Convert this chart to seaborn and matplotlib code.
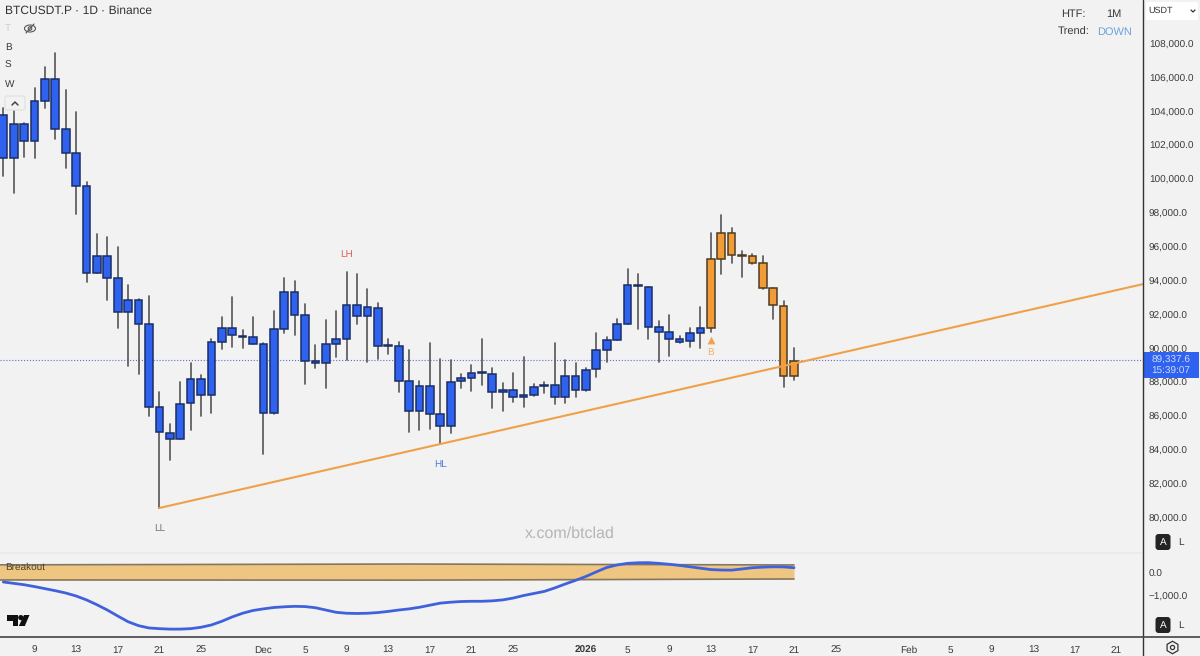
"""BTCUSDT.P daily candles with trend line and breakout pane."""

import matplotlib

matplotlib.use("Agg")

import matplotlib.dates as mdates
import matplotlib.pyplot as plt
import pandas as pd
import seaborn as sns
from matplotlib.lines import Line2D
from matplotlib.patches import Circle, Ellipse, FancyBboxPatch, Polygon, Rectangle

# candles, one per day from 2025-11-06 to 2026-01-21
first_day = "2025-11-06"
highs = [
    104220, 104040, 103330, 105400, 106640, 107470, 105280, 103980, 99850, 96780,
    96600, 96010, 93760, 92940, 93110, 87440, 85550, 88030, 89160, 88450,
    90570, 91870, 93050, 91110, 91870, 90340, 92230, 94180, 94000, 92640,
    90220, 91700, 92230, 94530, 94410, 93530, 92700, 90570, 90400, 89920,
    88090, 90340, 89390, 89330, 88510, 89040, 90570, 88860, 87970, 88570,
    89510, 87920, 88030, 90340, 89330, 89160, 88860, 90930, 90690, 91760,
    94710, 94410, 93650, 91640, 91990, 90750, 91220, 92460, 96840, 97900,
    97130, 95770, 95590, 95480, 93590, 92820, 90040,
]
lows = [
    100200, 99200, 101320, 101270, 104220, 102390, 100670, 97960, 93940, 94470,
    92880, 91220, 88980, 88510, 86030, 80590, 83430, 84670, 85200, 86030,
    86200, 89980, 90100, 90040, 90280, 83780, 86140, 90930, 90810, 87920,
    88860, 87680, 89510, 89330, 91460, 89220, 89390, 89690, 87440, 85080,
    85200, 85260, 84370, 85020, 87680, 87500, 87860, 86500, 86320, 86850,
    86560, 87210, 87380, 86730, 86790, 87150, 87500, 88330, 89220, 90510,
    91460, 91160, 90570, 89220, 89570, 90340, 90100, 90040, 90990, 94410,
    95060, 94240, 95000, 93530, 91760, 87740, 88150,
]
body_tops = [
    103810, 103270, 103270, 104630, 105930, 105930, 102980, 101560, 99610, 95480,
    95480, 94180, 92880, 92880, 91460, 86560, 85020, 86730, 88210, 88210,
    90400, 91220, 91220, 90750, 90690, 90280, 91160, 93350, 93350, 91990,
    89270, 90280, 90570, 92580, 92580, 92460, 92400, 90220, 90160, 88090,
    87800, 87800, 86140, 88030, 88270, 88570, 88620, 88510, 87560, 87560,
    87270, 87740, 87860, 87860, 88390, 88390, 88740, 89920, 90510, 91460,
    93760, 93760, 93650, 91280, 90990, 90570, 90930, 91220, 95300, 96840,
    96840, 95540, 95480, 95060, 93590, 92520, 89270,
]
body_bottoms = [
    101270, 101270, 102270, 102270, 104630, 102980, 101560, 99610, 94470, 94470,
    94180, 92170, 92170, 91460, 86560, 85080, 84670, 84670, 86790, 87270,
    87270, 90400, 90810, 90700, 90280, 86200, 86200, 91160, 91990, 89270,
    89160, 89160, 90280, 90570, 91930, 91930, 90160, 90160, 88090, 86320,
    86320, 86140, 85430, 85430, 88090, 88270, 88570, 87440, 87440, 87150,
    87150, 87270, 87800, 87150, 87150, 87560, 87560, 88800, 89920, 90510,
    91460, 93700, 91280, 90990, 90570, 90400, 90460, 90930, 91220, 95300,
    95540, 95480, 95060, 93590, 92580, 88390, 88390,
]
breakout_day = "2026-01-13"

trend_dates = ["2025-11-21", "2026-02-24"]
trend_prices = [80590, 93880]
last_price = 89337.6

# breakout pane, indicator read for each candle
indicator_values = [
    -390, -450, -510, -590, -680, -770, -870, -1000, -1170, -1380,
    -1610, -1870, -2120, -2290, -2390, -2420, -2440, -2440, -2420, -2360,
    -2260, -2100, -1910, -1750, -1630, -1560, -1500, -1470, -1450, -1460,
    -1510, -1610, -1710, -1750, -1760, -1750, -1720, -1670, -1610, -1560,
    -1490, -1400, -1310, -1270, -1240, -1230, -1230, -1210, -1170, -1090,
    -980, -890, -800, -650, -480, -320, -150, 50, 240, 350,
    420, 445, 450, 420, 380, 330, 270, 210, 150, 130,
    125, 175, 230, 255, 270, 265, 230,
]
band_dates = ["2025-11-01", "2025-12-15", "2026-01-21"]
band_upper = [350, 390, 350]
band_lower = [-300, -310, -260]

price_ticks = list(range(80000, 110000, 2000))
indicator_ticks = [0, -1000]
indicator_tick_labels = ["0.0", "\u22121,000.0"]
time_tick_dates = [
    "2025-11-09", "2025-11-13", "2025-11-17", "2025-11-21", "2025-11-25",
    "2025-12-01", "2025-12-05", "2025-12-09", "2025-12-13", "2025-12-17",
    "2025-12-21", "2025-12-25", "2026-01-01", "2026-01-05", "2026-01-09",
    "2026-01-13", "2026-01-17", "2026-01-21", "2026-01-25", "2026-02-01",
    "2026-02-05", "2026-02-09", "2026-02-13", "2026-02-17", "2026-02-21",
]
time_tick_labels = [
    "9", "13", "17", "21", "25", "Dec", "5", "9", "13", "17", "21", "25", "2026",
    "5", "9", "13", "17", "21", "25", "Feb", "5", "9", "13", "17", "21",
]

BG = "#f2f2f2"
BLUE = "#2f62ee"
BLUE_EDGE = "#1b2f66"
ORANGE = "#f29c38"
ORANGE_EDGE = "#4d3c22"
WICK = "#5c5c5c"
TREND = "#f0a04b"
AXIS = "#333333"
TEXT = "#3a3a3a"

W, H = 1200, 656
PANE_RIGHT, PANE_SPLIT, PANE_BOTTOM = 1143, 553, 637

sns.set_theme(style="white")
plt.rcParams["font.family"] = ["Liberation Sans", "DejaVu Sans"]
plt.rcParams["text.hinting"] = "none"
plt.rcParams["text.hinting_factor"] = 1
plt.rcParams["figure.facecolor"] = BG
plt.rcParams["axes.facecolor"] = BG

candles = pd.DataFrame({
    "date": pd.date_range(first_day, periods=len(highs), freq="D"),
    "high": highs,
    "low": lows,
    "top": body_tops,
    "bottom": body_bottoms,
    "indicator": indicator_values,
})
wicks = candles.melt(id_vars="date", value_vars=["high", "low"], value_name="price")

fig = plt.figure(figsize=(W / 100, H / 100), dpi=100)
ax = fig.add_axes([0, 1 - PANE_SPLIT / H, PANE_RIGHT / W, PANE_SPLIT / H])
ax_ind = fig.add_axes(
    [0, 1 - PANE_BOTTOM / H, PANE_RIGHT / W, (PANE_BOTTOM - PANE_SPLIT) / H], sharex=ax
)

# price pane
ax.axhline(last_price, color="#5b6fd6", linewidth=0.8, linestyle=":", zorder=1)
sns.lineplot(
    data=wicks, x="date", y="price", units="date", estimator=None,
    color=WICK, linewidth=1.25, ax=ax, legend=False, zorder=2,
)
is_breakout = candles["date"] >= pd.Timestamp(breakout_day)
ax.bar(
    candles["date"], candles["top"] - candles["bottom"], bottom=candles["bottom"],
    width=0.74,
    color=[ORANGE if b else BLUE for b in is_breakout],
    edgecolor=[ORANGE_EDGE if b else BLUE_EDGE for b in is_breakout],
    linewidth=1.1, zorder=3,
)
sns.lineplot(
    x=pd.to_datetime(trend_dates), y=trend_prices,
    color=TREND, linewidth=1.5, ax=ax, zorder=4,
)

ax.text(pd.Timestamp("2025-12-09"), 95590, "LH", color="#d9645a", fontsize=7,
        ha="center", va="center")
ax.text(pd.Timestamp("2025-12-18"), 83190, "HL", color="#4f7fd9", fontsize=7,
        ha="center", va="center")
ax.text(pd.Timestamp("2025-11-21"), 79410, "LL", color="#777777", fontsize=7,
        ha="center", va="center")
ax.text(pd.Timestamp("2026-01-13"), 89800, "B", color="#f2b06a", fontsize=7,
        ha="center", va="center")
ax.scatter([pd.Timestamp("2026-01-13")], [90520], marker="^", s=32, color="#f2a44c",
           linewidths=0, zorder=4)
ax.text(570 / PANE_RIGHT, 1 - 534 / PANE_SPLIT, "x.com/btclad", color="#b5b5b5",
        fontsize=11.5, ha="center", va="center", transform=ax.transAxes)

ax.set_ylim(77930, 110600)
ax.yaxis.tick_right()
ax.set_yticks(price_ticks)
ax.set_yticklabels([f"{t:,.1f}" for t in price_ticks])
ax.tick_params(axis="y", length=0, pad=4.3, labelsize=7.2, labelcolor=TEXT)
ax.tick_params(axis="x", length=0, labelbottom=False)
ax.set(xlabel="", ylabel="")

# breakout pane
band_x = pd.to_datetime(band_dates)
ax_ind.fill_between(band_x, band_lower, band_upper, color="#efc681", linewidth=0, zorder=1)
sns.lineplot(x=band_x, y=band_upper, color="#85775f", linewidth=1.2, ax=ax_ind, zorder=2)
sns.lineplot(x=band_x, y=band_lower, color="#85775f", linewidth=1.2, ax=ax_ind, zorder=2)
sns.lineplot(data=candles, x="date", y="indicator", color="#3f62dc", linewidth=2,
             ax=ax_ind, zorder=3)

ax_ind.set_ylim(-2783, 870)
ax_ind.yaxis.tick_right()
ax_ind.set_yticks(indicator_ticks)
ax_ind.set_yticklabels(indicator_tick_labels)
ax_ind.tick_params(axis="y", length=0, pad=4.3, labelsize=7.2, labelcolor=TEXT)
ax_ind.set_xticks(mdates.date2num(pd.to_datetime(time_tick_dates)))
ax_ind.set_xticklabels(time_tick_labels)
ax_ind.tick_params(axis="x", length=0, pad=6, labelsize=7.2, labelcolor=TEXT)
ax_ind.set(xlabel="", ylabel="")
for label in ax_ind.get_xticklabels():
    if label.get_text() == "2026":
        label.set_fontweight("bold")

ax.set_xlim(
    pd.Timestamp(first_day) - pd.Timedelta(hours=7.6),
    pd.Timestamp(first_day) + pd.Timedelta(hours=2629),
)

for a in (ax, ax_ind):
    for spine in a.spines.values():
        spine.set_visible(False)
ax_ind.spines["top"].set_visible(True)
ax_ind.spines["top"].set_color("#e9e9e9")
ax_ind.spines["top"].set_linewidth(1.2)

# chart furniture drawn in pixel space on top of both panes
over = fig.add_axes([0, 0, 1, 1], facecolor="none")
over.set_xlim(0, W)
over.set_ylim(H, 0)
over.axis("off")

over.add_line(Line2D([PANE_RIGHT, PANE_RIGHT], [0, H], color=AXIS, linewidth=1))
over.add_line(Line2D([0, W], [PANE_BOTTOM, PANE_BOTTOM], color="#444444", linewidth=1.2))

over.text(5, 10.5, "BTCUSDT.P \u00b7 1D \u00b7 Binance", fontsize=8.8, color="#333333",
          va="center")
over.text(5, 28.5, "T", fontsize=7.5, color="#cfcfcf", va="center")
over.text(5, 47, "B", fontsize=7.5, color=TEXT, va="center")
over.text(5, 65.5, "S", fontsize=7.5, color=TEXT, va="center")
over.text(5, 84, "W", fontsize=7.5, color=TEXT, va="center")

# hidden-eye icon
over.add_patch(Ellipse((30, 28.5), 11, 7, fill=False, edgecolor="#555555", linewidth=0.8))
over.add_patch(Circle((30, 28.5), 1.8, fill=False, edgecolor="#555555", linewidth=0.8))
over.add_line(Line2D([26, 34], [33, 24], color="#555555", linewidth=0.8))

# collapse button
over.add_patch(FancyBboxPatch((5, 96), 20, 14, boxstyle="round,pad=0,rounding_size=2",
                              facecolor=BG, edgecolor="#e0e0e0", linewidth=0.8))
over.add_line(Line2D([12, 15, 18], [105, 102, 105], color="#444444", linewidth=1.1))

# higher-timeframe table
over.text(1061, 14.5, "HTF:", fontsize=8, color=TEXT, va="center")
over.text(1106, 14.5, "1M", fontsize=8, color=TEXT, va="center")
over.text(1058, 32.5, "Trend:", fontsize=8, color=TEXT, va="center")
over.text(1097, 32.5, "DOWN", fontsize=8, color="#6ca2dd", va="center")

# currency selector
over.add_patch(FancyBboxPatch((1146, 2), 52, 18, boxstyle="round,pad=0,rounding_size=2",
                              facecolor="white", edgecolor="none"))
over.text(1148, 11, "USDT", fontsize=6.8, color="#333333", va="center")
over.add_line(Line2D([1191, 1193, 1195], [10, 12, 10], color="#333333", linewidth=0.9))

# last-price tag
over.add_patch(Rectangle((PANE_RIGHT + 0.5, 352), W - PANE_RIGHT - 1.5, 26,
                         facecolor=BLUE, edgecolor="none"))
over.text(1171, 360, f"{last_price:,.1f}", fontsize=7.2, color="#cfdcff", ha="center",
          va="center")
over.text(1171, 371, "15:39:07", fontsize=7.2, color="#cfdcff", ha="center", va="center")

over.text(5, 567, "Breakout", fontsize=7.5, color="#4a4233", va="center")

# TradingView mark
over.add_patch(Polygon([(6.7, 615), (18, 615), (18, 626), (12.5, 626), (12.5, 620.5),
                        (6.7, 620.5)], facecolor="#111111", edgecolor="none"))
over.add_patch(Circle((20.8, 617.6), 2.6, facecolor="#111111", edgecolor="none"))
over.add_patch(Polygon([(24, 615), (29.5, 615), (24.8, 626), (18.8, 626)],
                       facecolor="#111111", edgecolor="none"))

# auto / log buttons
for button_y in (534, 617):
    over.add_patch(FancyBboxPatch((1155.5, button_y), 15, 16,
                                  boxstyle="round,pad=0,rounding_size=3",
                                  facecolor="#242424", edgecolor="none"))
    over.text(1163, button_y + 8, "A", fontsize=7.5, color="white", ha="center", va="center")
    over.text(1181, button_y + 8, "L", fontsize=7.5, color=TEXT, ha="center", va="center")

# settings icon
over.plot([1172], [647], marker="h", markersize=9, markerfacecolor="none",
          markeredgecolor="#333333", markeredgewidth=0.9)
over.plot([1172], [647], marker="o", markersize=3, markerfacecolor="none",
          markeredgecolor="#333333", markeredgewidth=0.9)

fig.savefig("out.png", dpi=100, facecolor=BG)
